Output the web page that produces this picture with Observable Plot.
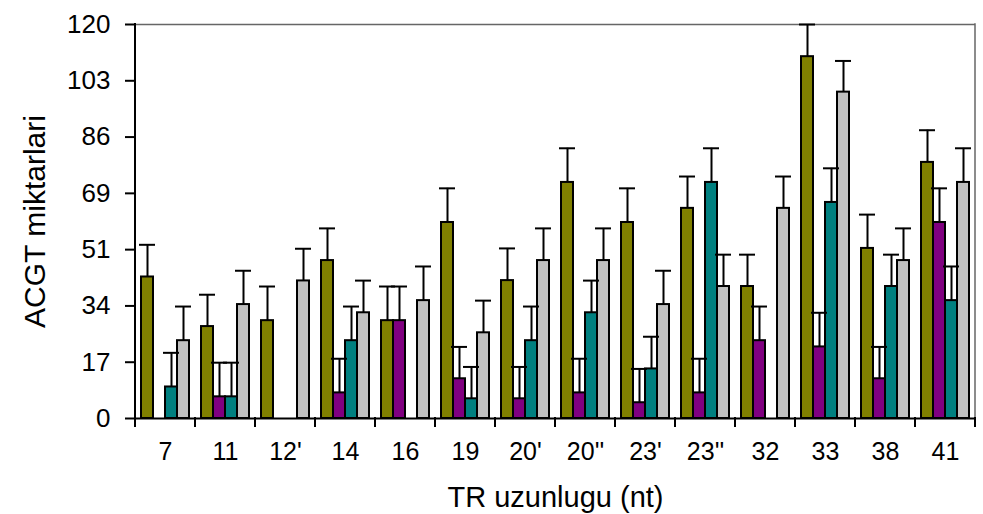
<!DOCTYPE html>
<html><head><meta charset="utf-8">
<script src="https://cdn.jsdelivr.net/npm/d3@7"></script>
<script src="https://cdn.jsdelivr.net/npm/@observablehq/plot@0.6"></script>
<style>body{margin:0;background:#fff} svg{display:block}</style>
</head><body><div id="chart"></div>
<script>
const categories = ["7","11","12'","14","16","19","20'","20''","23'","23''","32","33","38","41"];
const seriesNames = ["Seri 1","Seri 2","Seri 3","Seri 4"];
const seriesColors = ["#808000","#800080","#008080","#C0C0C0"];

const olive  = [43.1, 28.0, 29.8, 48.1, 29.8, 59.7, 42.0, 71.9, 59.7, 64.0, 40.2, 110.2, 51.8, 78.0];
const purple = [null, 6.6, null, 7.8, 29.8, 12.1, 6.0, 7.8, 4.8, 7.8, 23.7, 21.8, 12.1, 59.7];
const teal   = [9.6, 6.6, null, 23.7, null, 6.0, 23.7, 32.2, 15.1, 71.9, null, 65.8, 40.2, 35.9];
const gray   = [23.7, 34.7, 41.9, 32.2, 35.9, 26.1, 48.1, 48.1, 34.7, 40.2, 64.0, 99.4, 48.1, 71.9];

const oliveErr  = [9.8, 9.7, 10.4, 9.8, 10.4, 10.4, 9.8, 10.4, 10.4, 9.7, 9.7, 9.8, 10.3, 9.8];
const purpleErr = [null, 10.4, null, 10.4, 10.4, 9.7, 9.7, 10.4, 10.3, 10.4, 10.4, 10.4, 9.7, 10.4];
const tealErr   = [10.4, 10.4, null, 10.4, null, 9.7, 10.4, 9.8, 9.8, 10.4, null, 10.4, 9.7, 10.4];
const grayErr   = [10.4, 10.3, 9.8, 9.8, 10.4, 9.8, 9.8, 9.8, 10.3, 9.7, 9.7, 9.5, 9.8, 10.4];

const yTickValues = [0, 120/7, 240/7, 360/7, 480/7, 600/7, 720/7, 120];
const yTickLabels = ["0","17","34","51","69","86","103","120"];

const values = [olive, purple, teal, gray];
const errs = [oliveErr, purpleErr, tealErr, grayErr];
const data = [];
categories.forEach((c, i) => values.forEach((arr, s) => {
  if (arr[i] != null) data.push({cat: c, series: seriesNames[s], value: arr[i], err: errs[s][i]});
}));

const plot = Plot.plot({
  width: 983, height: 514,
  marginLeft: 134, marginRight: 8, marginTop: 24, marginBottom: 96,
  style: {fontFamily: "'Liberation Sans', Arial, sans-serif", background: "white", color: "black"},
  fx: {domain: categories, padding: 0},
  x: {domain: seriesNames, paddingInner: 0, paddingOuter: 0.5, axis: null},
  y: {domain: [0, 120]},
  color: {domain: seriesNames, range: seriesColors},
  marks: [
    Plot.ruleY([120], {stroke: "#666", strokeWidth: 1.5}),
    Plot.barY(data, {fx: "cat", x: "series", y: "value", fill: "series", stroke: "black", strokeWidth: 2}),
    Plot.ruleX(data, {fx: "cat", x: "series", y1: "value", y2: d => d.value + d.err, stroke: "black", strokeWidth: 2}),
    Plot.tickY(data, {fx: "cat", x: "series", y: d => d.value + d.err, stroke: "black", strokeWidth: 2, insetLeft: -2, insetRight: -2}),
    Plot.ruleY([0], {stroke: "black", strokeWidth: 2}),
    Plot.axisY(yTickValues, {tickSize: 10, tickPadding: 15, tickFormat: (d, i) => yTickLabels[i], fontSize: 26, strokeWidth: 2, label: null}),
    Plot.axisY({ticks: [], label: "ACGT miktarlari", labelAnchor: "center", labelArrow: false, labelOffset: 112, fontSize: 30}),
    Plot.axisFx({anchor: "bottom", tickSize: 0, tickPadding: 24, fontSize: 25, label: null}),
    Plot.axisFx({anchor: "bottom", ticks: [], label: "TR uzunlugu (nt)", labelAnchor: "center", labelArrow: false, labelOffset: 88, fontSize: 29})
  ]
});

// Frame sides and category-boundary ticks, positioned from Plot's own scales
const fx = plot.scale("fx");
const y = plot.scale("y");
const svg = d3.select(plot);
const y0 = y.apply(0), yTop = y.apply(120);
const left = fx.apply(categories[0]);
const right = fx.apply(categories[categories.length - 1]) + fx.bandwidth;
const g = svg.append("g").attr("stroke-linecap", "square");
g.append("line").attr("x1", right).attr("x2", right).attr("y1", yTop).attr("y2", y0).attr("stroke", "#666").attr("stroke-width", 1.5);
g.append("line").attr("x1", left).attr("x2", left).attr("y1", yTop).attr("y2", y0).attr("stroke", "black").attr("stroke-width", 2);
const bounds = categories.map(c => fx.apply(c)).concat([right]);
bounds.forEach(b => g.append("line").attr("x1", b).attr("x2", b).attr("y1", y0).attr("y2", y0 + 8).attr("stroke", "black").attr("stroke-width", 2));

document.getElementById("chart").append(plot);
</script>
</body></html>
